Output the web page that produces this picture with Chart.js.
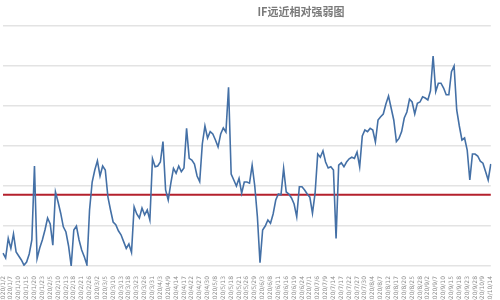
<!DOCTYPE html>
<html>
<head>
<meta charset="utf-8">
<script src="https://cdn.jsdelivr.net/npm/chart.js@4.4.0/dist/chart.umd.min.js"></script>
<style>
  html, body { margin: 0; padding: 0; background: #fff; overflow: hidden; }
  #wrap { width: 500px; height: 300px; }
</style>
</head>
<body>
<div id="wrap"><canvas id="ratioChart" width="500" height="300"></canvas></div>
<script>
// IF near/far month relative strength chart
const chartTitle = 'IF远近相对强弱图';

// trading dates (one per point)
const dates = (
  '2020/1/2 2020/1/3 2020/1/6 2020/1/7 2020/1/8 2020/1/9 2020/1/10 2020/1/13 2020/1/14 2020/1/15 ' +
  '2020/1/16 2020/1/17 2020/1/20 2020/1/21 2020/1/22 2020/1/23 ' +
  '2020/2/3 2020/2/4 2020/2/5 2020/2/6 2020/2/7 2020/2/10 2020/2/11 2020/2/12 2020/2/13 2020/2/14 ' +
  '2020/2/17 2020/2/18 2020/2/19 2020/2/20 2020/2/21 2020/2/24 2020/2/25 2020/2/26 2020/2/27 2020/2/28 ' +
  '2020/3/2 2020/3/3 2020/3/4 2020/3/5 2020/3/6 2020/3/9 2020/3/10 2020/3/11 2020/3/12 2020/3/13 ' +
  '2020/3/16 2020/3/17 2020/3/18 2020/3/19 2020/3/20 2020/3/23 2020/3/24 2020/3/25 2020/3/26 2020/3/27 ' +
  '2020/3/30 2020/3/31 ' +
  '2020/4/1 2020/4/2 2020/4/3 2020/4/7 2020/4/8 2020/4/9 2020/4/10 2020/4/13 2020/4/14 2020/4/15 ' +
  '2020/4/16 2020/4/17 2020/4/20 2020/4/21 2020/4/22 2020/4/23 2020/4/24 2020/4/27 2020/4/28 2020/4/29 ' +
  '2020/4/30 ' +
  '2020/5/6 2020/5/7 2020/5/8 2020/5/11 2020/5/12 2020/5/13 2020/5/14 2020/5/15 2020/5/18 2020/5/19 ' +
  '2020/5/20 2020/5/21 2020/5/22 2020/5/25 2020/5/26 2020/5/27 2020/5/28 2020/5/29 ' +
  '2020/6/1 2020/6/2 2020/6/3 2020/6/4 2020/6/5 2020/6/8 2020/6/9 2020/6/10 2020/6/11 2020/6/12 ' +
  '2020/6/15 2020/6/16 2020/6/17 2020/6/18 2020/6/19 2020/6/22 2020/6/23 2020/6/24 2020/6/29 2020/6/30 ' +
  '2020/7/1 2020/7/2 2020/7/3 2020/7/6 2020/7/7 2020/7/8 2020/7/9 2020/7/10 2020/7/13 2020/7/14 ' +
  '2020/7/15 2020/7/16 2020/7/17 2020/7/20 2020/7/21 2020/7/22 2020/7/23 2020/7/24 2020/7/27 2020/7/28 ' +
  '2020/7/29 2020/7/30 2020/7/31 ' +
  '2020/8/3 2020/8/4 2020/8/5 2020/8/6 2020/8/7 2020/8/10 2020/8/11 2020/8/12 2020/8/13 2020/8/14 ' +
  '2020/8/17 2020/8/18 2020/8/19 2020/8/20 2020/8/21 2020/8/24 2020/8/25 2020/8/26 2020/8/27 2020/8/28 ' +
  '2020/8/31 ' +
  '2020/9/1 2020/9/2 2020/9/3 2020/9/4 2020/9/7 2020/9/8 2020/9/9 2020/9/10 2020/9/11 2020/9/14 ' +
  '2020/9/15 2020/9/16 2020/9/17 2020/9/18 2020/9/21 2020/9/22 2020/9/23 2020/9/24 2020/9/25 2020/9/28 ' +
  '2020/9/29 2020/9/30 ' +
  '2020/10/9 2020/10/12 2020/10/13 2020/10/14'
).split(' ');

// relative strength
const strength = [
  0.32, 0.20, 0.69, 0.44, 0.80, 0.35, 0.25, 0.15, 0.02, 0.10,
  0.30, 0.65, 2.50, 0.19, 0.45, 0.65, 0.90, 1.20, 1.05, 0.52,
  1.85, 1.60, 1.32, 0.98, 0.85, 0.50, 0.00, 0.90, 1.00, 0.65,
  0.40, 0.23, 0.03, 1.40, 2.10, 2.40, 2.63, 2.25, 2.50, 2.40,
  1.73, 1.40, 1.10, 1.03, 0.88, 0.78, 0.61, 0.44, 0.55, 0.34,
  1.48, 1.30, 1.20, 1.45, 1.28, 1.40, 1.15, 2.68, 2.48, 2.50,
  2.60, 3.11, 1.90, 1.65, 2.07, 2.44, 2.32, 2.50, 2.36, 2.45,
  3.44, 2.69, 2.65, 2.55, 2.25, 2.11, 3.05, 3.50, 3.20, 3.36,
  3.30, 3.15, 2.98, 3.30, 3.45, 3.35, 4.47, 2.30, 2.15, 2.00,
  2.19, 1.82, 2.10, 2.10, 2.07, 2.52, 2.00, 1.23, 0.08, 0.90,
  1.00, 1.15, 1.07, 1.30, 1.65, 1.80, 1.78, 2.44, 1.85, 1.80,
  1.70, 1.55, 1.23, 1.98, 1.98, 1.90, 1.80, 1.72, 1.32, 1.82,
  2.80, 2.72, 2.88, 2.60, 2.45, 2.48, 2.40, 0.69, 2.52, 2.58,
  2.48, 2.60, 2.68, 2.72, 2.69, 2.85, 2.48, 3.25, 3.40, 3.36,
  3.44, 3.40, 3.10, 3.65, 3.73, 3.80, 4.05, 4.25, 3.95, 3.65,
  3.11, 3.19, 3.36, 3.70, 3.85, 4.17, 4.10, 3.80, 4.07, 4.10,
  4.23, 4.20, 4.15, 4.38, 5.25, 4.36, 4.57, 4.57, 4.45, 4.28,
  4.28, 4.86, 5.00, 3.90, 3.50, 3.15, 3.20, 2.90, 2.15, 2.80,
  2.80, 2.75, 2.62, 2.57, 2.36, 2.15, 2.55
];

// reference level (red line)
const baseLevel = 1.78;
const baseLine = strength.map(() => baseLevel);

// title drawn a bit right of centre, as in the original
const titlePlugin = {
  id: 'offsetTitle',
  afterDraw(chart) {
    const { ctx } = chart;
    ctx.save();
    ctx.font = 'bold 11px "Noto Sans CJK SC", "DejaVu Sans", sans-serif';
    ctx.fillStyle = '#7a7a7a';
    ctx.textAlign = 'center';
    ctx.textBaseline = 'middle';
    ctx.fillText(chartTitle, 301, 12);
    ctx.restore();
  }
};

const ctx = document.getElementById('ratioChart').getContext('2d');
new Chart(ctx, {
  type: 'line',
  data: {
    labels: dates,
    datasets: [
      {
        label: '强弱',
        data: strength,
        borderColor: '#4470a6',
        borderWidth: 1.6,
        pointRadius: 0,
        tension: 0,
        fill: false
      },
      {
        label: '基准',
        data: baseLine,
        borderColor: '#b4202c',
        borderWidth: 2,
        pointRadius: 0,
        tension: 0,
        fill: false
      }
    ]
  },
  options: {
    responsive: false,
    animation: false,
    layout: { padding: { top: 26, left: 3, right: 0, bottom: 0 } },
    plugins: {
      legend: { display: false },
      tooltip: { enabled: false },
      title: { display: false }
    },
    scales: {
      x: {
        offset: false,
        grid: { display: false },
        border: { display: false },
        ticks: {
          autoSkip: false,
          minRotation: 90,
          maxRotation: 90,
          padding: 2,
          color: '#8c8c8c',
          font: { size: 6, family: '"DejaVu Sans", sans-serif' },
          callback(value, index) {
            return index % 3 === 0 ? this.getLabelForValue(value) : '';
          }
        },
        afterFit(scale) { scale.height = 34; }
      },
      y: {
        min: 0,
        max: 6,
        ticks: { display: false, stepSize: 1 },
        border: { display: false },
        grid: { color: '#e3e3e3', lineWidth: 1.5, drawTicks: false }
      }
    }
  },
  plugins: [titlePlugin]
});
</script>
</body>
</html>
